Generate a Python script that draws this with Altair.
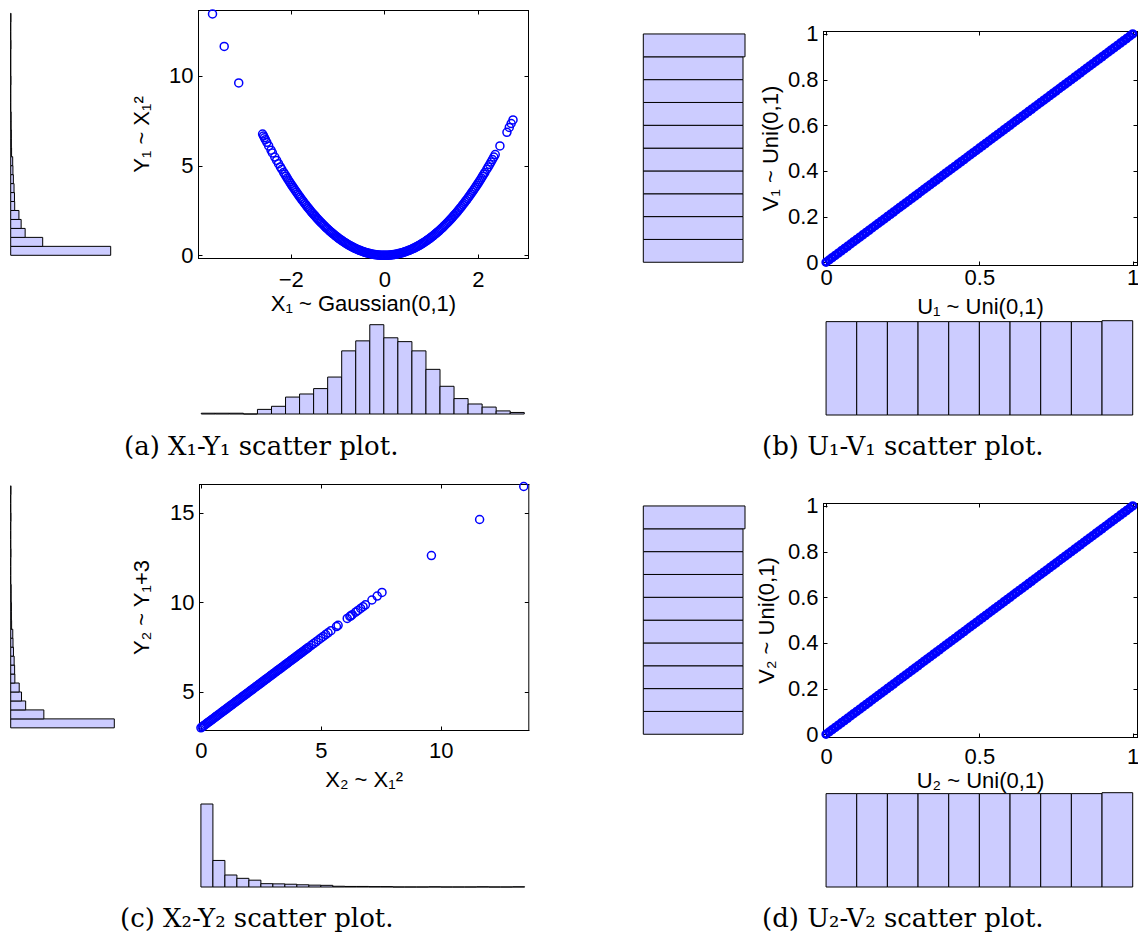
import altair as alt
import pandas as pd

W, H = 1138, 934
TICK = 4
BLUE = "#0000FF"
HIST_FILL = "#CCCCFF"
SANS = "Liberation Sans"
SERIF = "DejaVu Serif"

# ---------------- (a) X1 ~ Gaussian(0,1) vs Y1 ~ X1^2 ----------------
a_x_left = [-3.67, -3.42, -3.11, -2.60, -2.58, -2.56, -2.54, -2.51, -2.47, -2.42,
            -2.39, -2.34, -2.30, -2.26, -2.22, -2.19]
a_y_left = [13.46, 11.65, 9.61, 6.76, 6.66, 6.55, 6.45, 6.30, 6.10, 5.86,
            5.71, 5.48, 5.29, 5.11, 4.93, 4.80]
a_x_core = [-2.15, -2.10, -2.05, -2.00, -1.95, -1.90, -1.85, -1.80, -1.75, -1.70,
            -1.65, -1.60, -1.55, -1.50, -1.45, -1.40, -1.35, -1.30, -1.25, -1.20,
            -1.15, -1.10, -1.05, -1.00, -0.95, -0.90, -0.85, -0.80, -0.75, -0.70,
            -0.65, -0.60, -0.55, -0.50, -0.45, -0.40, -0.35, -0.30, -0.25, -0.20,
            -0.15, -0.10, -0.05, 0.00, 0.05, 0.10, 0.15, 0.20, 0.25, 0.30,
            0.35, 0.40, 0.45, 0.50, 0.55, 0.60, 0.65, 0.70, 0.75, 0.80,
            0.85, 0.90, 0.95, 1.00, 1.05, 1.10, 1.15, 1.20, 1.25, 1.30,
            1.35, 1.40, 1.45, 1.50, 1.55, 1.60, 1.65, 1.70, 1.75, 1.80,
            1.85, 1.90, 1.95, 2.00, 2.05, 2.10, 2.15]
a_y_core = [4.62, 4.41, 4.20, 4.00, 3.80, 3.61, 3.42, 3.24, 3.06, 2.89,
            2.72, 2.56, 2.40, 2.25, 2.10, 1.96, 1.82, 1.69, 1.56, 1.44,
            1.32, 1.21, 1.10, 1.00, 0.90, 0.81, 0.72, 0.64, 0.56, 0.49,
            0.42, 0.36, 0.30, 0.25, 0.20, 0.16, 0.12, 0.09, 0.06, 0.04,
            0.02, 0.01, 0.00, 0.00, 0.00, 0.01, 0.02, 0.04, 0.06, 0.09,
            0.12, 0.16, 0.20, 0.25, 0.30, 0.36, 0.42, 0.49, 0.56, 0.64,
            0.72, 0.81, 0.90, 1.00, 1.10, 1.21, 1.32, 1.44, 1.56, 1.69,
            1.82, 1.96, 2.10, 2.25, 2.40, 2.56, 2.72, 2.89, 3.06, 3.24,
            3.42, 3.61, 3.80, 4.00, 4.20, 4.41, 4.62]
a_x_mid = [-2.125, -2.075, -2.025, -1.975, -1.925, -1.875, -1.825, -1.775, -1.725, -1.675,
           -1.625, -1.575, -1.525, -1.475, -1.425, -1.375, -1.325, -1.275, -1.225, -1.175,
           -1.125, -1.075, -1.025, -0.975, -0.925, -0.875, -0.825, -0.775, -0.725, -0.675,
           -0.625, -0.575, -0.525, -0.475, -0.425, -0.375, -0.325, -0.275, -0.225, -0.175,
           -0.125, -0.075, -0.025, 0.025, 0.075, 0.125, 0.175, 0.225, 0.275, 0.325,
           0.375, 0.425, 0.475, 0.525, 0.575, 0.625, 0.675, 0.725, 0.775, 0.825,
           0.875, 0.925, 0.975, 1.025, 1.075, 1.125, 1.175, 1.225, 1.275, 1.325,
           1.375, 1.425, 1.475, 1.525, 1.575, 1.625, 1.675, 1.725, 1.775, 1.825,
           1.875, 1.925, 1.975, 2.025, 2.075, 2.125]
a_y_mid = [4.52, 4.31, 4.10, 3.90, 3.71, 3.52, 3.33, 3.15, 2.98, 2.81,
           2.64, 2.48, 2.33, 2.18, 2.03, 1.89, 1.76, 1.63, 1.50, 1.38,
           1.27, 1.16, 1.05, 0.95, 0.86, 0.77, 0.68, 0.60, 0.53, 0.46,
           0.39, 0.33, 0.28, 0.23, 0.18, 0.14, 0.11, 0.08, 0.05, 0.03,
           0.02, 0.01, 0.00, 0.00, 0.01, 0.02, 0.03, 0.05, 0.08, 0.11,
           0.14, 0.18, 0.23, 0.28, 0.33, 0.39, 0.46, 0.53, 0.60, 0.68,
           0.77, 0.86, 0.95, 1.05, 1.16, 1.27, 1.38, 1.50, 1.63, 1.76,
           1.89, 2.03, 2.18, 2.33, 2.48, 2.64, 2.81, 2.98, 3.15, 3.33,
           3.52, 3.71, 3.90, 4.10, 4.31, 4.52]
a_x_right = [2.19, 2.22, 2.25, 2.28, 2.31, 2.34, 2.37, 2.47, 2.62, 2.67, 2.71, 2.75]
a_y_right = [4.80, 4.93, 5.06, 5.20, 5.34, 5.48, 5.62, 6.10, 6.86, 7.13, 7.35, 7.55]

a_xhist_edges = [-3.91, -3.61, -3.31, -3.01, -2.71, -2.41, -2.11, -1.81, -1.51, -1.21,
                 -0.91, -0.61, -0.31, -0.01, 0.29, 0.59, 0.89, 1.19, 1.49, 1.79,
                 2.09, 2.39, 2.69, 2.99]
a_xhist_counts = [1, 1, 1, 0, 6, 10, 22, 26, 33, 48, 82, 95, 116, 99, 94, 82, 58, 36,
                  20, 13, 9, 4, 2]
a_yhist_edges = [0.0, 0.5, 1.0, 1.5, 2.0, 2.5, 3.0, 3.5, 4.0, 4.5, 5.0, 5.5, 6.0, 6.5,
                 7.0, 7.5, 8.0, 8.5, 9.0, 9.5, 10.0, 10.5, 11.0, 11.5, 12.0, 12.5, 13.0, 13.5]
a_yhist_counts = [450, 144, 65, 47, 37, 18, 17, 15, 12, 10, 9, 4, 3, 3, 2, 2, 0, 0, 0,
                  1, 0, 0, 0, 1, 0, 0, 1]

# ---------------- (b) U1 ~ Uni(0,1) vs V1 ~ Uni(0,1) ----------------
b_u = [0.00, 0.01, 0.02, 0.03, 0.04, 0.05, 0.06, 0.07, 0.08, 0.09,
       0.10, 0.11, 0.12, 0.13, 0.14, 0.15, 0.16, 0.17, 0.18, 0.19,
       0.20, 0.21, 0.22, 0.23, 0.24, 0.25, 0.26, 0.27, 0.28, 0.29,
       0.30, 0.31, 0.32, 0.33, 0.34, 0.35, 0.36, 0.37, 0.38, 0.39,
       0.40, 0.41, 0.42, 0.43, 0.44, 0.45, 0.46, 0.47, 0.48, 0.49,
       0.50, 0.51, 0.52, 0.53, 0.54, 0.55, 0.56, 0.57, 0.58, 0.59,
       0.60, 0.61, 0.62, 0.63, 0.64, 0.65, 0.66, 0.67, 0.68, 0.69,
       0.70, 0.71, 0.72, 0.73, 0.74, 0.75, 0.76, 0.77, 0.78, 0.79,
       0.80, 0.81, 0.82, 0.83, 0.84, 0.85, 0.86, 0.87, 0.88, 0.89,
       0.90, 0.91, 0.92, 0.93, 0.94, 0.95, 0.96, 0.97, 0.98, 0.99, 1.00]
b_v = b_u  # every point lies on the diagonal V1 = U1
b_bin_edges = [0.0, 0.1, 0.2, 0.3, 0.4, 0.5, 0.6, 0.7, 0.8, 0.9, 1.0]
b_uhist_counts = [100, 100, 100, 100, 100, 100, 100, 100, 100, 101]
b_vhist_counts = [100, 100, 100, 100, 100, 100, 100, 100, 100, 102]

# ---------------- (c) X2 ~ X1^2 vs Y2 ~ Y1+3 ----------------
c_x = [0.0, 0.1, 0.2, 0.3, 0.4, 0.5, 0.6, 0.7, 0.8, 0.9,
       1.0, 1.1, 1.2, 1.3, 1.4, 1.5, 1.6, 1.7, 1.8, 1.9,
       2.0, 2.1, 2.2, 2.3, 2.4, 2.5, 2.6, 2.7, 2.8, 2.9,
       3.0, 3.1, 3.2, 3.3, 3.4, 3.5, 3.6, 3.7, 3.8, 3.9,
       4.0, 4.1, 4.2, 4.3, 4.4, 4.5, 4.6, 4.7, 4.8, 4.9,
       5.0, 5.1, 5.2, 5.3, 5.42, 5.65, 5.72, 6.10, 6.21, 6.25,
       6.31, 6.45, 6.55, 6.66, 6.76, 6.86, 7.13, 7.35, 7.55, 9.61,
       11.62, 13.46]
c_y = [3.0, 3.1, 3.2, 3.3, 3.4, 3.5, 3.6, 3.7, 3.8, 3.9,
       4.0, 4.1, 4.2, 4.3, 4.4, 4.5, 4.6, 4.7, 4.8, 4.9,
       5.0, 5.1, 5.2, 5.3, 5.4, 5.5, 5.6, 5.7, 5.8, 5.9,
       6.0, 6.1, 6.2, 6.3, 6.4, 6.5, 6.6, 6.7, 6.8, 6.9,
       7.0, 7.1, 7.2, 7.3, 7.4, 7.5, 7.6, 7.7, 7.8, 7.9,
       8.0, 8.1, 8.2, 8.3, 8.42, 8.65, 8.72, 9.10, 9.21, 9.25,
       9.31, 9.45, 9.55, 9.66, 9.76, 9.86, 10.13, 10.35, 10.55, 12.61,
       14.62, 16.46]
c_x_mid = [0.05, 0.15, 0.25, 0.35, 0.45, 0.55, 0.65, 0.75, 0.85, 0.95,
           1.05, 1.15, 1.25, 1.35, 1.45, 1.55, 1.65, 1.75, 1.85, 1.95,
           2.05, 2.15, 2.25, 2.35, 2.45, 2.55, 2.65, 2.75, 2.85, 2.95,
           3.05, 3.15, 3.25, 3.35, 3.45, 3.55, 3.65, 3.75, 3.85, 3.95,
           4.05, 4.15, 4.25, 4.35, 4.45]
c_y_mid = [3.05, 3.15, 3.25, 3.35, 3.45, 3.55, 3.65, 3.75, 3.85, 3.95,
           4.05, 4.15, 4.25, 4.35, 4.45, 4.55, 4.65, 4.75, 4.85, 4.95,
           5.05, 5.15, 5.25, 5.35, 5.45, 5.55, 5.65, 5.75, 5.85, 5.95,
           6.05, 6.15, 6.25, 6.35, 6.45, 6.55, 6.65, 6.75, 6.85, 6.95,
           7.05, 7.15, 7.25, 7.35, 7.45]
c_xhist_edges = a_yhist_edges      # X2 takes the same values as Y1
c_xhist_counts = a_yhist_counts
c_yhist_edges = [3.0, 3.5, 4.0, 4.5, 5.0, 5.5, 6.0, 6.5, 7.0, 7.5, 8.0, 8.5, 9.0, 9.5,
                 10.0, 10.5, 11.0, 11.5, 12.0, 12.5, 13.0, 13.5, 14.0, 14.5, 15.0, 15.5,
                 16.0, 16.5]
c_yhist_counts = a_yhist_counts

# ---------------- (d) U2 ~ Uni(0,1) vs V2 ~ Uni(0,1) ----------------
d_u = b_u
d_v = b_u
d_uhist_counts = [100, 100, 100, 100, 100, 100, 100, 100, 100, 101]
d_vhist_counts = [100, 100, 100, 100, 100, 100, 100, 100, 100, 102]

captions = ["(a) X\u2081-Y\u2081 scatter plot.", "(b) U\u2081-V\u2081 scatter plot.",
            "(c) X\u2082-Y\u2082 scatter plot.", "(d) U\u2082-V\u2082 scatter plot."]

AX = dict(labelFont=SANS, labelFontSize=22, labelColor="black", tickColor="black",
          tickWidth=1, titleFont=SANS, titleFontSize=22, titleFontWeight="normal",
          titleColor="black", grid=False, labelFlush=False, labelOverlap=False)


def sc(domain, rng):
    return alt.Scale(domain=domain, range=rng, nice=False, zero=False)


def scatter_layers(df, xd, xr, yd, yr, xticks, yticks, fmt, xtitle, ytitle,
                   xlabpad, xtitle_y, ylabpad, ytitle_x, size, sw):
    xs, ys = sc(xd, xr), sc(yd, yr)
    base = alt.Chart(df)
    main = base.mark_point(shape="circle", filled=False, color=BLUE, size=size,
                           strokeWidth=sw, opacity=1).encode(
        x=alt.X("x:Q", scale=xs, axis=alt.Axis(
            orient="bottom", offset=-(H - yr[0] + TICK), values=xticks, tickSize=TICK,
            domain=False, labelPadding=xlabpad, title=xtitle, titleY=xtitle_y,
            titleBaseline="alphabetic", format=fmt, **AX)),
        y=alt.Y("y:Q", scale=ys, axis=alt.Axis(
            orient="left", offset=-(xr[0] + TICK), values=yticks, tickSize=TICK,
            domain=False, labelPadding=ylabpad, title=ytitle, titleX=ytitle_x,
            titleBaseline="alphabetic", format=fmt, **AX)),
    )
    ghost = base.mark_point(opacity=0, size=1)
    ticks_tr = ghost.encode(
        x=alt.X("x:Q", scale=xs, axis=alt.Axis(
            orient="top", offset=-(yr[1] + TICK), values=xticks, tickSize=TICK,
            domain=False, labels=False, title="", tickColor="black", grid=False)),
        y=alt.Y("y:Q", scale=ys, axis=alt.Axis(
            orient="right", offset=-(W - xr[1] + TICK), values=yticks, tickSize=TICK,
            domain=False, labels=False, title="", tickColor="black", grid=False)),
    )
    box_bl = ghost.encode(
        x=alt.X("x:Q", scale=xs, axis=alt.Axis(
            orient="bottom", offset=-(H - yr[0]), ticks=False, labels=False, title="",
            domainColor="black", domainWidth=1, domainCap="square", grid=False)),
        y=alt.Y("y:Q", scale=ys, axis=alt.Axis(
            orient="left", offset=-xr[0], ticks=False, labels=False, title="",
            domainColor="black", domainWidth=1, domainCap="square", grid=False)),
    )
    box_tr = ghost.encode(
        x=alt.X("x:Q", scale=xs, axis=alt.Axis(
            orient="top", offset=-yr[1], ticks=False, labels=False, title="",
            domainColor="black", domainWidth=1, domainCap="square", grid=False)),
        y=alt.Y("y:Q", scale=ys, axis=alt.Axis(
            orient="right", offset=-(W - xr[1]), ticks=False, labels=False, title="",
            domainColor="black", domainWidth=1, domainCap="square", grid=False)),
    )
    return [main, ticks_tr, box_bl, box_tr]


def hist_bottom(edges, counts, xd, xr, yd, yr):
    df = pd.DataFrame({"lo": edges[:-1], "hi": edges[1:], "n": counts})
    return alt.Chart(df).mark_rect(fill=HIST_FILL, stroke="black", strokeWidth=1).encode(
        x=alt.X("lo:Q", scale=sc(xd, xr), axis=None),
        x2="hi:Q",
        y=alt.Y("n:Q", scale=sc(yd, yr), axis=None),
        y2=alt.Y2Datum(0),
    )


def hist_left(edges, counts, xd, xr, yd, yr):
    df = pd.DataFrame({"lo": edges[:-1], "hi": edges[1:], "n": counts})
    return alt.Chart(df).mark_rect(fill=HIST_FILL, stroke="black", strokeWidth=1).encode(
        x=alt.X("n:Q", scale=sc(xd, xr), axis=None),
        x2=alt.X2Datum(0),
        y=alt.Y("lo:Q", scale=sc(yd, yr), axis=None),
        y2="hi:Q",
    )


def caption(text, x, y):
    return alt.Chart(pd.DataFrame({"t": [text]})).mark_text(
        align="left", baseline="alphabetic", font=SERIF, fontSize=26, color="black"
    ).encode(x=alt.value(x), y=alt.value(y), text="t:N")


layers = []

# panel (a)
A_XD, A_XR, A_YD, A_YR = [-3.98, 3.07], [198, 528], [-0.15, 13.68], [258, 10]
df_a = pd.DataFrame({"x": a_x_left + a_x_core + a_x_mid + a_x_right,
                     "y": a_y_left + a_y_core + a_y_mid + a_y_right})
layers.append(hist_left(a_yhist_edges, a_yhist_counts, [0, 450], [10.7, 110.7], A_YD, A_YR))
layers.append(hist_bottom(a_xhist_edges, a_xhist_counts, A_XD, A_XR, [0, 116], [414, 324.7]))
layers += scatter_layers(df_a, A_XD, A_XR, A_YD, A_YR, [-2, 0, 2], [0, 5, 10], "d",
                         "X\u2081 ~ Gaussian(0,1)", "Y\u2081 ~ X\u2081\u00b2",
                         11, 56, 5, -54, 64, 1.5)
layers.append(caption(captions[0], 124, 455))

# panel (b)
B_XD, B_XR, B_YD, B_YR = [-0.01, 1.014], [823, 1137], [-0.012, 1.013], [265, 31]
df_b = pd.DataFrame({"x": b_u, "y": b_v})
layers.append(hist_left(b_bin_edges, b_vhist_counts, [0, 102], [643.3, 745], B_YD, B_YR))
layers.append(hist_bottom(b_bin_edges, b_uhist_counts, B_XD, B_XR, [0, 101], [415, 320.7]))
layers += scatter_layers(df_b, B_XD, B_XR, B_YD, B_YR, [0, 0.5, 1],
                         [0, 0.2, 0.4, 0.6, 0.8, 1], ".1~f",
                         "U\u2081 ~ Uni(0,1)", "V\u2081 ~ Uni(0,1)",
                         2, 52, 5, -50, 46, 2.7)
layers.append(caption(captions[1], 762, 455))

# panel (c)
C_XD, C_XR, C_YD, C_YR = [-0.08, 13.65], [199, 528.3], [2.88, 16.6], [730, 484]
df_c = pd.DataFrame({"x": c_x + c_x_mid, "y": c_y + c_y_mid})
layers.append(hist_left(c_yhist_edges, c_yhist_counts, [0, 450], [10.7, 114.3], C_YD, C_YR))
layers.append(hist_bottom(c_xhist_edges, c_xhist_counts, C_XD, C_XR, [0, 450], [887, 804]))
layers += scatter_layers(df_c, C_XD, C_XR, C_YD, C_YR, [0, 5, 10], [5, 10, 15], "d",
                         "X\u2082 ~ X\u2081\u00b2", "Y\u2082 ~ Y\u2081+3",
                         10, 60, 5, -55, 64, 1.5)
layers.append(caption(captions[2], 120, 927))

# panel (d)
D_XD, D_XR, D_YD, D_YR = [-0.01, 1.014], [823, 1137], [-0.012, 1.013], [737, 503]
df_d = pd.DataFrame({"x": d_u, "y": d_v})
layers.append(hist_left(b_bin_edges, d_vhist_counts, [0, 102], [643.3, 745], D_YD, D_YR))
layers.append(hist_bottom(b_bin_edges, d_uhist_counts, D_XD, D_XR, [0, 101], [887, 792.7]))
layers += scatter_layers(df_d, D_XD, D_XR, D_YD, D_YR, [0, 0.5, 1],
                         [0, 0.2, 0.4, 0.6, 0.8, 1], ".1~f",
                         "U\u2082 ~ Uni(0,1)", "V\u2082 ~ Uni(0,1)",
                         9, 54, 5, -54, 46, 2.7)
layers.append(caption(captions[3], 762, 927))

chart = alt.layer(*layers).resolve_scale(
    x="independent", y="independent"
).resolve_axis(
    x="independent", y="independent"
).properties(
    width=W, height=H, padding=0, autosize=alt.AutoSizeParams(type="none")
).configure_view(stroke="transparent")

chart.save("out.html", embed_options={"renderer": "svg", "actions": False})
